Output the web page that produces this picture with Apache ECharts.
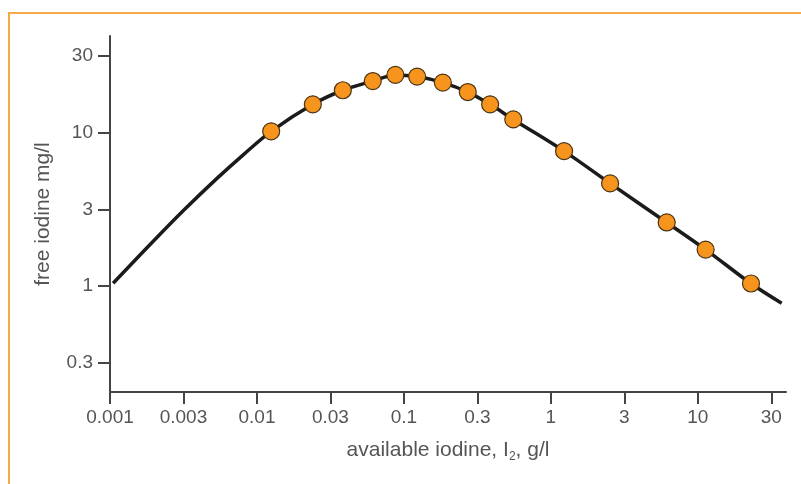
<!DOCTYPE html>
<html>
<head>
<meta charset="utf-8">
<script src="https://cdn.jsdelivr.net/npm/echarts@6/dist/echarts.min.js"></script>
<style>
  html, body { margin: 0; padding: 0; background: #fff; }
  #chart { width: 801px; height: 484px; }
</style>
</head>
<body>
<div id="chart"></div>
<script>
// measured points (available iodine g/l, free iodine mg/l)
const pointX = [0.0125, 0.024, 0.0384, 0.0614, 0.0875, 0.123, 0.184, 0.272, 0.386, 0.555, 1.23, 2.53, 6.14, 11.3, 23.0];
const pointY = [10.2, 15.3, 18.9, 21.7, 23.8, 23.2, 21.2, 18.4, 15.3, 12.2, 7.58, 4.67, 2.60, 1.73, 1.04];

// curve before and after the measured points
const leadX = [0.00105, 0.0021, 0.00316, 0.0053, 0.0081];
const leadY = [1.045, 2.09, 3.11, 5.0, 7.2];
const tailX = [37.2];
const tailY = [0.774];

// tick values and labels (ticks sit at half decades)
const xTickValues = [0.001, 0.00316, 0.01, 0.0316, 0.1, 0.316, 1, 3.16, 10, 31.6];
const xTickLabels = ['0.001', '0.003', '0.01', '0.03', '0.1', '0.3', '1', '3', '10', '30'];
const yTickValues = [0.316, 1, 3.16, 10, 31.6];
const yTickLabels = ['0.3', '1', '3', '10', '30'];

const log = Math.log10;
const xTicks = xTickValues.map(log);
const yTicks = yTickValues.map(log);

function labelFor(ticks, labels, v) {
    let best = 0;
    ticks.forEach((t, i) => { if (Math.abs(t - v) < Math.abs(ticks[best] - v)) best = i; });
    return labels[best];
}

const curveX = leadX.concat(pointX, tailX);
const curveY = leadY.concat(pointY, tailY);
const curveData = curveX.map((x, i) => [log(x), log(curveY[i])]);
const pointData = pointX.map((x, i) => [log(x), log(pointY[i])]);

const chart = echarts.init(document.getElementById('chart'));
const axisColor = '#444';
const textColor = '#555';
const font = 'Liberation Sans, Arial, sans-serif';

chart.setOption({
    animation: false,
    graphic: [{
        type: 'rect',
        shape: { x: 9, y: 13, width: 900, height: 600 },
        style: { fill: 'none', stroke: '#F5A847', lineWidth: 2 },
        silent: true
    }],
    grid: {
        left: 110,
        right: 15,
        top: 36,
        bottom: 92
    },
    xAxis: {
        type: 'value',
        min: -3,
        max: 1.6,
        name: 'available iodine, I{s|2}, g/l',
        nameLocation: 'middle',
        nameGap: 45,
        nameTextStyle: {
            color: textColor,
            fontFamily: font,
            fontSize: 21,
            lineHeight: 26,
            rich: {
                s: { fontSize: 12, lineHeight: 12, verticalAlign: 'bottom', color: textColor, fontFamily: font }
            }
        },
        splitLine: { show: false },
        axisLine: { onZero: false, lineStyle: { color: axisColor, width: 2 } },
        axisTick: {
            customValues: xTicks,
            length: 12,
            lineStyle: { color: axisColor, width: 2 }
        },
        axisLabel: {
            customValues: xTicks,
            margin: 16,
            color: textColor,
            fontFamily: font,
            fontSize: 19,
            formatter: v => labelFor(xTicks, xTickLabels, v)
        }
    },
    yAxis: {
        type: 'value',
        min: -0.69,
        max: 1.63,
        name: 'free iodine mg/l',
        nameLocation: 'middle',
        nameRotate: 90,
        nameGap: 56,
        nameTextStyle: {
            color: textColor,
            fontFamily: font,
            fontSize: 21
        },
        splitLine: { show: false },
        axisLine: { onZero: false, lineStyle: { color: axisColor, width: 2 } },
        axisTick: {
            customValues: yTicks,
            length: 12,
            lineStyle: { color: axisColor, width: 2 }
        },
        axisLabel: {
            customValues: yTicks,
            margin: 17,
            color: textColor,
            fontFamily: font,
            fontSize: 19,
            formatter: v => labelFor(yTicks, yTickLabels, v)
        }
    },
    series: [
        {
            type: 'line',
            data: curveData,
            smooth: 0.35,
            symbol: 'none',
            lineStyle: { color: '#1b1b1b', width: 3.5 },
            z: 2
        },
        {
            type: 'scatter',
            data: pointData,
            symbolSize: 17,
            itemStyle: { color: '#F7941D', borderColor: '#4a3312', borderWidth: 1.2, opacity: 1 },
            z: 3
        }
    ]
});
</script>
</body>
</html>
